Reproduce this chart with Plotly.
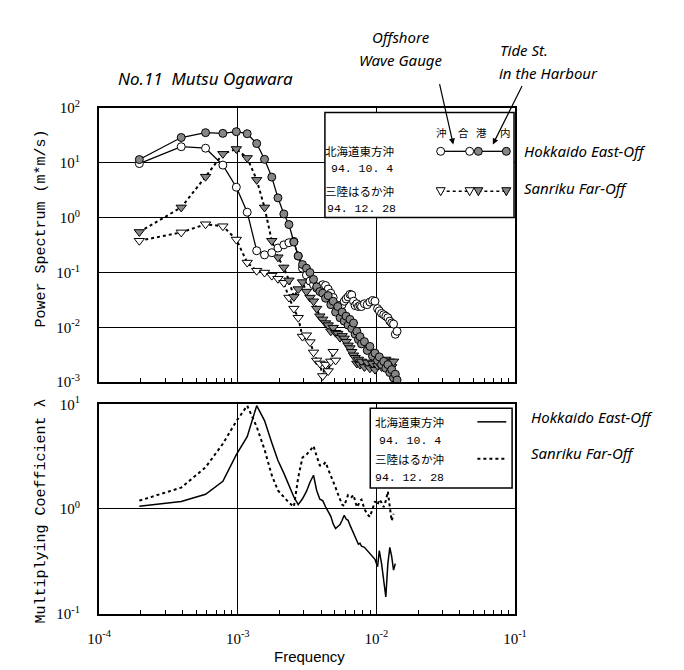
import plotly.graph_objects as go

W, H = 684, 670

# ---------------- data ----------------
freq = [0.000195, 0.000391, 0.000586, 0.000781, 0.000977, 0.00117, 0.00137, 0.00156, 0.00176, 0.00195,
        0.00215, 0.00234, 0.00254, 0.00273, 0.00293, 0.00313, 0.00332, 0.00352, 0.00371, 0.00391,
        0.0041, 0.0043, 0.00449, 0.00469, 0.00488, 0.00508, 0.00527, 0.00547, 0.00566, 0.00586,
        0.00605, 0.00625, 0.00645, 0.00664, 0.00684, 0.00703, 0.00723, 0.00742, 0.00762, 0.00781,
        0.0082, 0.00859, 0.00898, 0.00938, 0.00977, 0.0102, 0.0105, 0.0109, 0.0113, 0.0117,
        0.0121, 0.0125, 0.0129, 0.0133, 0.0137, 0.0141]

# Hokkaido East-Off (94.10.4) - harbour (filled circles)
hok_harbour = [11.5, 29, 35.5, 34.5, 37, 34, 22.5, 11.6, 5.5, 2.3,
               1.17, 0.75, 0.36, 0.2, 0.14, 0.12, 0.10, 0.075, 0.055, 0.045,
               0.042, 0.034, 0.038, 0.026, 0.03, 0.019, 0.024, 0.015, 0.019, 0.013,
               0.016, 0.011, 0.014, 0.0095, 0.012, 0.0075, 0.0085, 0.006, 0.0068, 0.005,
               0.0055, 0.0038, 0.0045, 0.003, 0.0034, 0.0025, 0.0029, 0.0021, 0.0024, 0.0018,
               0.0021, 0.0015, 0.0017, 0.0012, 0.0014, 0.0011]
# Hokkaido East-Off - offshore wave gauge (open circles)
hok_offshore = [9.7, 19.7, 18.5, 9.1, 3.6, 1.26, 0.25, 0.21, 0.23, 0.28,
                0.32, 0.35, 0.37, 0.2, 0.12, 0.09, 0.07, 0.06, 0.052, 0.055,
                0.06, 0.058, 0.05, 0.042, 0.035, 0.026, 0.024, 0.022, 0.026, 0.03,
                0.033, 0.036, 0.04, 0.039, 0.03, 0.025, 0.027, 0.024, 0.025, 0.024,
                0.027, 0.026, 0.029, 0.031, 0.03, 0.022, 0.02, 0.018, 0.017, 0.016,
                0.015, 0.013, 0.012, 0.0115, 0.0075, 0.0085]
# Sanriku Far-Off (94.12.28) - harbour (filled triangles)
san_harbour = [0.55, 1.54, 5.6, 14.6, 17.9, 12.3, 4.9, 1.54, 0.38, 0.19,
               0.124, 0.072, 0.036, 0.05, 0.067, 0.045, 0.035, 0.03, 0.022, 0.016,
               0.014, 0.012, 0.011, 0.0085, 0.0099, 0.008, 0.0077, 0.0065, 0.007, 0.0063,
               0.0055, 0.0047, 0.0042, 0.0036, 0.0031, 0.0028, 0.0022, 0.0026, 0.0021, 0.0024,
               0.0019, 0.0023, 0.0018, 0.0022, 0.0017, 0.002, 0.0024, 0.0019, 0.0023, 0.0026,
               0.0021, 0.0024, 0.0019, 0.0024]
# Sanriku Far-Off - offshore wave gauge (open triangles)
san_offshore = [0.38, 0.54, 0.76, 0.70, 0.40, 0.152, 0.108, 0.10, 0.088, 0.077,
                0.065, 0.035, 0.022, 0.015, 0.0068, 0.0072, 0.0054, 0.0035, 0.0025, 0.0022,
                0.0013, 0.0021, 0.0016, 0.0024, 0.0036, 0.0025]

# Multiplying coefficient lambda
lam_hok = [1.06, 1.18, 1.38, 1.84, 3.3, 4.9, 9.7, 7.0, 4.3, 2.9,
           2.2, 1.68, 1.3, 1.1, 1.25, 1.47, 1.8, 2.1, 1.5, 1.24,
           1.2, 1.05, 0.93, 0.85, 0.72, 0.65, 0.68, 0.71, 0.78, 0.87,
           0.8, 0.78, 0.7, 0.64, 0.58, 0.55, 0.5, 0.46, 0.47, 0.44,
           0.43, 0.4, 0.38, 0.35, 0.33, 0.28, 0.4, 0.3, 0.2, 0.144,
           0.3, 0.43, 0.35, 0.26, 0.3]
lam_san = [1.2, 1.6, 2.5, 4.2, 6.9, 9.7, 6.1, 3.7, 2.1, 1.5,
           1.3, 1.15, 1.05, 2.0, 3.1, 3.3, 3.6, 4.0, 3.2, 2.6,
           2.6, 2.8, 2.4, 2.1, 1.82, 1.6, 1.4, 1.25, 1.1, 1.07,
           1.2, 1.36, 1.35, 1.3, 1.36, 1.2, 1.04, 1.1, 1.2, 1.23,
           1.0, 0.89, 0.84, 1.0, 1.18, 1.1, 1.23, 1.15, 1.04, 1.2,
           1.47, 1.04, 0.77, 0.9]

y_tick_vals_top = [1e-3, 1e-2, 1e-1, 1e0, 1e1, 1e2]
y_tick_text_top = ["10<sup>-3</sup>", "10<sup>-2</sup>", "10<sup>-1</sup>", "10<sup>0</sup>", "10<sup>1</sup>", "10<sup>2</sup>"]
y_tick_vals_bot = [1e-1, 1e0, 1e1]
y_tick_text_bot = ["10<sup>-1</sup>", "10<sup>0</sup>", "10<sup>1</sup>"]
x_tick_vals = [1e-4, 1e-3, 1e-2, 1e-1]
x_tick_text = ["10<sup>-4</sup>", "10<sup>-3</sup>", "10<sup>-2</sup>", "10<sup>-1</sup>"]

# ---------------- helpers ----------------
def xp(px):
    return px / W

def yp(py):
    return 1 - py / H

GRAY = "#868686"
fig = go.Figure()

def spec_trace(y, filled, tri, dotted, name):
    n = len(y)
    return go.Scatter(
        x=freq[:n], y=y, mode="lines+markers", name=name, showlegend=False,
        xaxis="x", yaxis="y",
        line=dict(color="black", width=2 if dotted else 1.3, dash="dot" if dotted else "solid"),
        marker=dict(symbol="triangle-down" if tri else "circle", size=9 if tri else 8,
                    color=GRAY if filled else "white", line=dict(color="black", width=1)),
    )

fig.add_trace(spec_trace(san_offshore, False, True, True, "Sanriku offshore"))
fig.add_trace(spec_trace(san_harbour, True, True, True, "Sanriku harbour"))
fig.add_trace(spec_trace(hok_offshore, False, False, False, "Hokkaido offshore"))
fig.add_trace(spec_trace(hok_harbour, True, False, False, "Hokkaido harbour"))

fig.add_trace(go.Scatter(x=freq[:len(lam_san)], y=lam_san, mode="lines", xaxis="x2", yaxis="y2",
                         line=dict(color="black", width=2, dash="dot"), showlegend=False))
fig.add_trace(go.Scatter(x=freq[:len(lam_hok)], y=lam_hok, mode="lines", xaxis="x2", yaxis="y2",
                         line=dict(color="black", width=1.5), showlegend=False))

XD = [xp(82), xp(513)]
TICKF = dict(family="Liberation Serif", size=15, color="black")
minor = dict(ticks="inside", ticklen=4, tickcolor="black", showgrid=False, dtick="D1")

common_x = dict(type="log", range=[-4, -1], domain=XD, showline=True, linewidth=2, linecolor="black",
                mirror=True, showgrid=True, gridcolor="black", gridwidth=1, zeroline=False,
                tickvals=x_tick_vals, ticks="inside", ticklen=6, tickcolor="black", minor=minor)

fig.update_layout(
    width=W, height=H, margin=dict(l=0, r=0, t=0, b=0),
    paper_bgcolor="white", plot_bgcolor="white",
    xaxis=dict(**common_x, anchor="y", showticklabels=False),
    yaxis=dict(type="log", range=[-3, 2], domain=[yp(374.3), yp(92.5)], anchor="x",
               showline=True, linewidth=2, linecolor="black", mirror=True,
               showgrid=True, gridcolor="black", gridwidth=1, zeroline=False,
               tickvals=y_tick_vals_top, ticktext=y_tick_text_top, tickfont=TICKF,
               ticks="", ticklabelstandoff=14),
    xaxis2=dict(**common_x, anchor="y2", ticktext=x_tick_text, tickfont=TICKF, ticklabelstandoff=10),
    yaxis2=dict(type="log", range=[-1, 1], domain=[yp(612), yp(397)], anchor="x2",
                showline=True, linewidth=2, linecolor="black", mirror=True,
                showgrid=True, gridcolor="black", gridwidth=1, zeroline=False,
                tickvals=y_tick_vals_bot, ticktext=y_tick_text_bot, tickfont=TICKF,
                ticks="", ticklabelstandoff=14),
)

shapes = []
ann = []

def text(px, py, s, size=12, family="Noto Sans CJK JP", xanchor="center", angle=0, style="normal"):
    ann.append(dict(x=xp(px), y=yp(py), xref="paper", yref="paper", text=s, showarrow=False,
                    xanchor=xanchor, yanchor="middle", textangle=angle,
                    font=dict(family=family, size=size, color="black", style=style)))

def circ(px, py, filled):
    shapes.append(dict(type="circle", xref="paper", yref="paper", xsizemode="pixel", ysizemode="pixel",
                       xanchor=xp(px), yanchor=yp(py), x0=-4, x1=4, y0=-4, y1=4,
                       fillcolor=GRAY if filled else "white", line=dict(color="black", width=1)))

def tri(px, py, filled):
    shapes.append(dict(type="path", xref="paper", yref="paper", xsizemode="pixel", ysizemode="pixel",
                       xanchor=xp(px), yanchor=yp(py), path="M -4.5,3.5 L 4.5,3.5 L 0,-4.5 Z",
                       fillcolor=GRAY if filled else "white", line=dict(color="black", width=1)))

def seg(x0, y0, x1, y1, dash="solid", width=1.3):
    shapes.append(dict(type="line", xref="paper", yref="paper", x0=xp(x0), y0=yp(y0), x1=xp(x1), y1=yp(y1),
                       line=dict(color="black", width=width, dash=dash)))

def box(x0, y0, x1, y1):
    shapes.append(dict(type="rect", xref="paper", yref="paper", x0=xp(x0), y0=yp(y0), x1=xp(x1), y1=yp(y1),
                       fillcolor="white", line=dict(color="black", width=1.5)))

# top legend
box(316, 97, 512, 205)
text(352, 137, "北海道東方沖", 11.5)
text(354, 155, "94. 10. 4", 11.5, "Liberation Mono")
text(352, 178, "三陸はるか沖", 11.5)
text(354, 196, "94. 12. 28", 11.5, "Liberation Mono")
text(437, 118, "沖", 10.5)
text(460, 118, "合", 10.5)
text(478, 118, "港", 10.5)
text(503, 118, "内", 10.5)
seg(436, 137, 466, 137)
seg(475, 137, 504, 137)
circ(436, 137, False); circ(466, 137, False); circ(475, 137, True); circ(504, 137, True)
seg(436, 178, 466, 178, "dot", 1.6)
seg(475, 178, 504, 178, "dot", 1.6)
tri(436, 178, False); tri(466, 178, False); tri(475, 178, True); tri(504, 178, True)

# bottom legend
box(363, 401, 510, 483)
text(404, 415, "北海道東方沖", 11.5)
text(404, 434, "94. 10. 4", 11.5, "Liberation Mono")
text(404, 453, "三陸はるか沖", 11.5)
text(404, 472, "94. 12. 28", 11.5, "Liberation Mono")
seg(474, 415, 504, 415, "solid", 1.5)
seg(474, 453, 504, 453, "dot", 2)

# axis titles
text(22, 216, "Power Spectrum (m*m/s)", 15, "Liberation Mono", angle=-90)
text(22, 507, "Multiplying Coefficient λ", 15, "Liberation Mono", angle=-90)
text(300, 656, "Frequency", 15, "Liberation Sans")

# handwritten notes
HW = "Noto Sans"
text(192, 62, "No.11  Mutsu Ogawara", 17, HW, style="italic")
text(395, 20, "Offshore", 15, HW, style="italic")
text(395, 43, "Wave Gauge", 15, HW, style="italic")
text(522, 33, "Tide St.", 15, HW, style="italic")
text(548, 57, "in the Harbour", 15, HW, style="italic")
text(520, 137, "Hokkaido East-Off", 15, HW, xanchor="left", style="italic")
text(520, 175, "Sanriku Far-Off", 15, HW, xanchor="left", style="italic")
text(528, 410, "Hokkaido East-Off", 15, HW, xanchor="left", style="italic")
text(527, 447, "Sanriku Far-Off", 15, HW, xanchor="left", style="italic")

ann.append(dict(x=xp(449), y=yp(130), xref="paper", yref="paper", ax=-14, ay=-62, text="",
                showarrow=True, arrowhead=2, arrowsize=1, arrowwidth=1.2, arrowcolor="black"))
ann.append(dict(x=xp(490), y=yp(130), xref="paper", yref="paper", ax=30, ay=-60, text="",
                showarrow=True, arrowhead=2, arrowsize=1, arrowwidth=1.2, arrowcolor="black"))

fig.update_layout(shapes=shapes, annotations=ann)
fig.write_html("out.html")
